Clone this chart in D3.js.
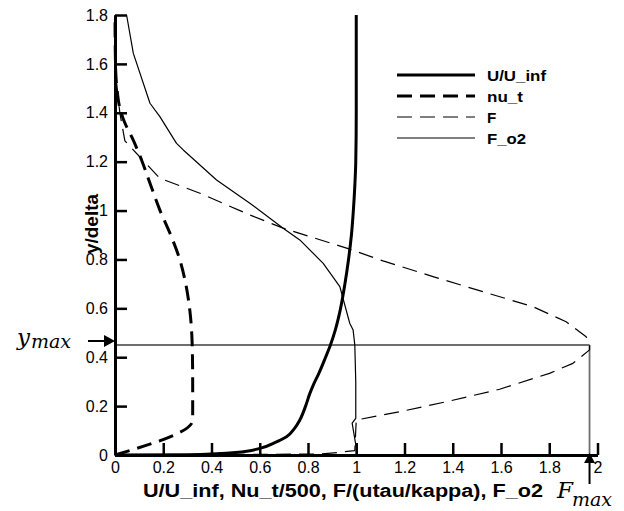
<!DOCTYPE html>
<html><head><meta charset="utf-8">
<script src="https://cdn.jsdelivr.net/npm/d3@7"></script>
<style>body{margin:0;background:#fff}svg{display:block}</style>
</head><body>
<svg id="c" width="624" height="511"></svg>
<script>
// ---- data ----
const xTicks = [0, 0.2, 0.4, 0.6, 0.8, 1, 1.2, 1.4, 1.6, 1.8, 2];
const yTicks = [0, 0.2, 0.4, 0.6, 0.8, 1, 1.2, 1.4, 1.6, 1.8];
const xTickLabels = ["0","0.2","0.4","0.6","0.8","1","1.2","1.4","1.6","1.8","2"];
const yTickLabels = ["0","0.2","0.4","0.6","0.8","1","1.2","1.4","1.6","1.8"];

const uY = [0, 0.001, 0.005, 0.01, 0.027, 0.05, 0.075, 0.11, 0.143, 0.2, 0.25, 0.293, 0.334, 0.4, 0.45, 0.511, 0.6, 0.7, 0.8, 0.9, 1.0, 1.1, 1.2, 1.4, 1.6, 1.8];
const uX = [0, 0.3, 0.42, 0.5, 0.6, 0.66, 0.711, 0.745, 0.766, 0.79, 0.807, 0.825, 0.845, 0.873, 0.893, 0.913, 0.935, 0.953, 0.968, 0.98, 0.988, 0.994, 0.998, 1.0, 1.0, 1.0];

const nuY = [0, 0.143, 0.3, 0.45, 0.593, 0.716, 0.798, 0.907, 1.002, 1.112, 1.207, 1.3, 1.358, 1.42, 1.5, 1.6, 1.8];
const nuX = [0, 0.322, 0.322, 0.32, 0.31, 0.29, 0.269, 0.228, 0.186, 0.145, 0.11, 0.07, 0.041, 0.02, 0.008, 0.002, 0];

const fX = [0, 0.85, 0.92, 0.994, 1.0, 1.18, 1.387, 1.594, 1.801, 1.898, 1.967, 1.967, 1.953, 1.87, 1.732, 1.525, 1.318, 1.111, 0.973, 0.697, 0.559, 0.352, 0.186, 0.041, 0.02, 0.007, 0, 0];
const fY = [0, 0.004, 0.01, 0.018, 0.143, 0.177, 0.221, 0.269, 0.334, 0.375, 0.43, 0.45, 0.484, 0.545, 0.607, 0.668, 0.73, 0.794, 0.842, 0.928, 0.982, 1.071, 1.132, 1.285, 1.4, 1.52, 1.6, 1.8];

const fo2X = [1.0, 1.0, 0.983, 0.998, 0.998, 0.994, 0.987, 0.973, 0.932, 0.863, 0.766, 0.697, 0.559, 0.421, 0.283, 0.255, 0.186, 0.145, 0.076, 0.048];
const fo2Y = [0, 0.03, 0.13, 0.15, 0.3, 0.45, 0.511, 0.539, 0.689, 0.784, 0.88, 0.928, 1.03, 1.125, 1.248, 1.275, 1.384, 1.439, 1.643, 1.8];

const seriesNames = ["U/U_inf", "nu_t", "F", "F_o2"];
const yMax = 0.45, fMax = 1.967;

// ---- chart ----
const svg = d3.select("#c");
const x = d3.scaleLinear().domain([0, 2]).range([115, 597.5]);
const y = d3.scaleLinear().domain([0, 1.8]).range([455, 15]);

// reference lines
svg.append("line").attr("x1", x(0)).attr("x2", x(fMax)).attr("y1", y(yMax)).attr("y2", y(yMax))
  .attr("stroke", "#6e6e6e").attr("stroke-width", 1.8);
svg.append("line").attr("x1", x(fMax)).attr("x2", x(fMax)).attr("y1", y(yMax)).attr("y2", y(0))
  .attr("stroke", "#6e6e6e").attr("stroke-width", 1.8);

const zip = (xs, ys) => xs.map((v, i) => [v, ys[i]]);
const series = [
  {name: seriesNames[0], pts: zip(uX, uY), w: 3, dash: null, curve: d3.curveMonotoneY},
  {name: seriesNames[1], pts: zip(nuX, nuY), w: 3, dash: "15,8", curve: d3.curveMonotoneY},
  {name: seriesNames[2], pts: zip(fX, fY), w: 1.2, dash: "15,8", curve: d3.curveLinear},
  {name: seriesNames[3], pts: zip(fo2X, fo2Y), w: 1.2, dash: null, curve: d3.curveLinear}
];
series.forEach(s => {
  const line = d3.line().x(d => x(d[0])).y(d => y(d[1])).curve(s.curve);
  svg.append("path").attr("d", line(s.pts)).attr("fill", "none").attr("stroke", "#000")
    .attr("stroke-width", s.w).attr("stroke-dasharray", s.dash).attr("stroke-linejoin", "round");
});

// axes
const xAxis = d3.axisBottom(x).tickValues(xTicks).tickFormat((d, i) => xTickLabels[i])
  .tickSizeInner(-12).tickSizeOuter(0).tickPadding(7);
const yAxis = d3.axisLeft(y).tickValues(yTicks).tickFormat((d, i) => yTickLabels[i])
  .tickSizeInner(-12).tickSizeOuter(0).tickPadding(7);
const gx = svg.append("g").attr("transform", `translate(0,${y(0)})`).call(xAxis);
const gy = svg.append("g").attr("transform", `translate(${x(0)},0)`).call(yAxis);
[gx, gy].forEach(g => {
  g.select(".domain").attr("stroke", "#000").attr("stroke-width", 3);
  g.selectAll(".tick line").attr("stroke", "#000").attr("stroke-width", 2.5);
  g.selectAll(".tick text").attr("fill", "#000").style("font-family", "'Liberation Sans', Arial, sans-serif").style("font-size", "16px");
});

// axis titles
svg.append("text").attr("x", 143).attr("y", 497).attr("textLength", 400).attr("lengthAdjust", "spacingAndGlyphs")
  .style("font-family", "'Liberation Sans', Arial, sans-serif").style("font-size", "18px").style("font-weight", "bold")
  .text("U/U_inf, Nu_t/500, F/(utau/kappa), F_o2");
svg.append("text").attr("transform", "translate(98,254) rotate(-90)").attr("x", 0).attr("y", 0)
  .attr("textLength", 60).attr("lengthAdjust", "spacingAndGlyphs")
  .style("font-family", "'Liberation Sans', Arial, sans-serif").style("font-size", "18px").style("font-weight", "bold")
  .text("y/delta");

// legend
const legY = [75, 96, 117, 138];
const legW = [59, 36, 9.3, 39];
series.forEach((s, i) => {
  svg.append("line").attr("x1", 397).attr("x2", 475).attr("y1", legY[i]).attr("y2", legY[i])
    .attr("stroke", "#000").attr("stroke-width", s.w).attr("stroke-dasharray", s.dash);
  svg.append("text").attr("x", 487).attr("y", legY[i] + 5.5).attr("textLength", legW[i]).attr("lengthAdjust", "spacingAndGlyphs")
    .style("font-family", "'Liberation Sans', Arial, sans-serif").style("font-size", "15px").style("font-weight", "bold")
    .text(s.name);
});

// annotations
const arrowY = y(yMax) - 4;
svg.append("line").attr("x1", 88).attr("x2", 105).attr("y1", arrowY).attr("y2", arrowY).attr("stroke", "#000").attr("stroke-width", 2);
svg.append("path").attr("d", `M104,${arrowY-6} L115,${arrowY} L104,${arrowY+6} Z`).attr("fill", "#000");
const ax = x(fMax);
svg.append("line").attr("x1", ax).attr("x2", ax).attr("y1", 484).attr("y2", 462).attr("stroke", "#000").attr("stroke-width", 2);
svg.append("path").attr("d", `M${ax-5.5},463 L${ax},453 L${ax+5.5},463 Z`).attr("fill", "#000");

const mathFont = "'DejaVu Serif', serif";
const ym = svg.append("text").attr("x", 17).attr("y", 345).style("font-family", mathFont).style("font-style", "italic");
ym.append("tspan").style("font-size", "23px").text("y");
ym.append("tspan").attr("x", 31).attr("y", 348).style("font-size", "19px").text("max");
const fm = svg.append("text").attr("x", 557).attr("y", 498).style("font-family", mathFont).style("font-style", "italic");
fm.append("tspan").style("font-size", "23px").text("F");
fm.append("tspan").attr("x", 572).attr("y", 506).style("font-size", "19px").text("max");
</script>
</body></html>
